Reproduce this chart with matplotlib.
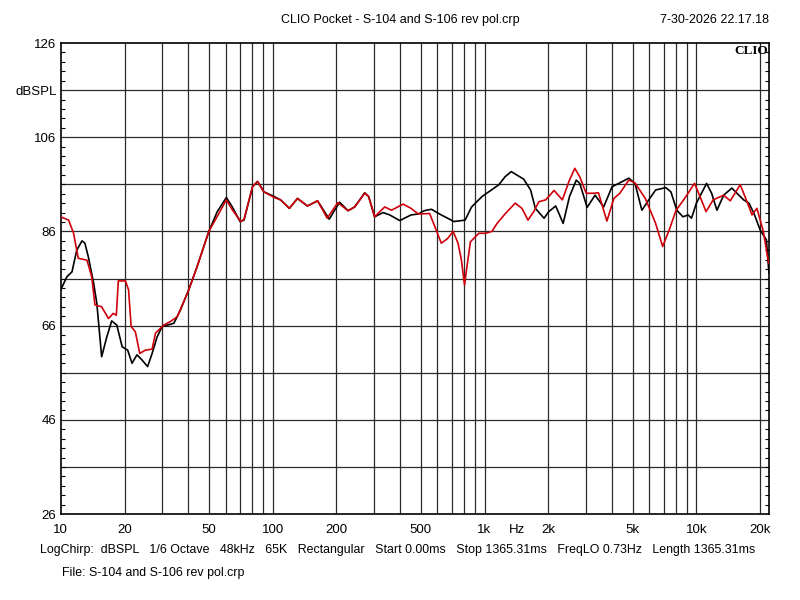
import numpy as np
import matplotlib
matplotlib.use('Agg')
import matplotlib.pyplot as plt
from matplotlib.ticker import FixedLocator, NullFormatter

plt.rcParams['font.family'] = ['Liberation Sans', 'DejaVu Sans']

# black curve (S-104)
freq_black = [10, 10.7, 11.3, 11.9, 12.6, 13.0, 13.5, 14.3, 14.8, 15.6, 16.5, 17.4, 18.4,
              19.5, 20.7, 21.7, 22.9, 24.2, 25.7, 27.0, 28.5, 30.1, 31.8, 34.2, 36.7, 40.2,
              44.0, 50.0, 54.8, 60.5, 64.5, 70.2, 73.3, 80.4, 84.9, 91.0, 101.8, 109, 120,
              131, 146, 163, 185, 207, 227, 244, 272, 284, 303, 332, 357, 398, 450, 487,
              519, 562, 625, 670, 718, 810, 869, 973, 1168, 1250, 1337, 1530, 1650, 1737,
              1910, 2010, 2168, 2350, 2518, 2711, 2815, 3050, 3325, 3650, 4000, 4300, 4800,
              5130, 5530, 5960, 6420, 7170, 7580, 8080, 8640, 9140, 9480, 10000, 11170,
              11800, 12500, 13450, 14700, 15540, 16700, 17700, 18700, 20000, 21400, 22000]
spl_black = [73.6, 76.4, 77.4, 82.0, 84.0, 83.5, 80.6, 75.0, 70.8, 59.4, 63.6, 67.0, 66.1,
             61.5, 60.8, 58.0, 59.8, 58.7, 57.3, 60.1, 63.6, 65.8, 66.1, 66.5, 69.3, 73.6,
             78.5, 86.0, 90.2, 93.2, 91.2, 88.1, 88.4, 95.5, 96.6, 94.4, 93.4, 92.7, 90.9,
             93.0, 91.4, 92.5, 88.6, 92.2, 90.4, 91.2, 94.2, 93.4, 89.1, 90.0, 89.5, 88.3,
             89.5, 89.7, 90.4, 90.7, 89.5, 88.8, 88.1, 88.4, 91.2, 93.4, 95.9, 97.6, 98.7,
             97.1, 94.8, 90.9, 88.8, 90.2, 91.4, 87.7, 93.4, 96.9, 96.2, 91.1, 93.7, 91.2,
             95.5, 96.2, 97.3, 96.2, 90.5, 92.7, 94.8, 95.3, 94.4, 90.5, 89.1, 89.5, 88.8,
             92.0, 96.2, 94.1, 90.5, 93.7, 95.2, 94.1, 92.7, 92.0, 89.8, 86.3, 84.2, 77.1]

# red curve (S-106 rev pol)
freq_red = [10, 10.9, 11.5, 12.1, 13.3, 14.0, 14.5, 15.6, 16.8, 17.7, 18.3, 18.7, 20.2,
            20.9, 21.5, 22.5, 23.6, 25.1, 27.0, 28.0, 30.6, 33.0, 35.5, 40.2, 44.0, 50.0,
            54.8, 60.5, 64.5, 70.8, 73.3, 80.4, 84.9, 91.0, 101.8, 109, 120, 131, 146, 163,
            181, 203, 227, 244, 272, 284, 303, 338, 364, 413, 450, 487, 551, 595, 625,
            670, 711, 750, 778, 805, 826, 858, 940, 1010, 1084, 1146, 1255, 1396, 1502,
            1604, 1707, 1805, 1945, 2130, 2330, 2518, 2668, 2815, 3020, 3270, 3450, 3780,
            4080, 4350, 4800, 5130, 5740, 6420, 6930, 7440, 8020, 8800, 9800, 10400, 11100,
            12000, 13450, 14450, 16100, 17200, 18300, 19300, 20700, 21800, 22000]
spl_red = [89.1, 88.4, 85.6, 80.3, 79.9, 76.4, 70.4, 70.0, 67.5, 68.6, 68.2, 75.5, 75.5,
           73.6, 65.8, 64.7, 60.1, 60.8, 61.0, 64.4, 66.1, 66.9, 67.9, 73.6, 78.5, 86.0,
           89.2, 92.7, 90.6, 88.1, 88.6, 95.5, 96.6, 94.4, 93.2, 92.7, 90.9, 93.0, 91.4,
           92.5, 88.8, 92.1, 90.4, 91.2, 94.1, 93.4, 89.1, 91.2, 90.5, 91.8, 90.9, 89.7,
           89.8, 86.0, 83.5, 84.5, 86.0, 83.5, 79.9, 74.6, 78.5, 83.8, 85.6, 85.6,
           86.0, 87.7, 89.8, 92.0, 90.9, 88.4, 90.2, 92.3, 92.7, 94.7, 92.7, 96.9, 99.4,
           97.6, 94.1, 94.1, 94.2, 88.2, 93.0, 94.1, 96.9, 96.3, 93.0, 87.7, 82.8, 86.3,
           90.5, 93.0, 96.2, 93.4, 90.2, 92.7, 93.7, 92.5, 95.9, 92.7, 89.5, 90.9, 86.0,
           79.9, 79.2]

x_ticks = [10, 20, 50, 100, 200, 500, 1000, 1420, 2000, 5000, 10000, 20000]
x_labels = ['10', '20', '50', '100', '200', '500', '1k', 'Hz', '2k', '5k', '10k', '20k']
y_ticks = [26, 46, 66, 86, 106, 116, 126]
y_labels = ['26', '46', '66', '86', '106', 'dBSPL', '126']

fig = plt.figure(figsize=(8, 6), dpi=100)
ax = fig.add_axes([0.0759, 0.1433, 0.8853, 0.785])

ax.set_xscale('log')
ax.set_xlim(10, 22000)
ax.set_ylim(26, 126)

# grid
grid_f = [m * 10 ** d for d in range(1, 5) for m in range(1, 10)]
grid_f = [g for g in grid_f if 10 < g <= 20000]
for g in grid_f:
    ax.axvline(g, color='#2a2a2a', lw=0.9, zorder=1)
for yv in range(36, 126, 10):
    ax.axhline(yv, color='#2a2a2a', lw=0.9, zorder=1)

ax.plot(freq_black, spl_black, color='black', lw=1.2, zorder=3, solid_joinstyle='round')
ax.plot(freq_red, spl_red, color='#d0000a', lw=1.2, zorder=4, solid_joinstyle='round')

ax.xaxis.set_major_locator(FixedLocator(x_ticks))
ax.xaxis.set_minor_locator(FixedLocator([]))
ax.set_xticklabels(x_labels)
ax.xaxis.set_minor_formatter(NullFormatter())
ax.tick_params(axis='x', length=0, pad=7, labelsize=9.5)

ax.set_yticks(y_ticks)
ax.set_yticklabels(y_labels)
ax.set_yticks(np.arange(26, 127, 2), minor=True)
ax.tick_params(axis='y', which='major', length=0, pad=3, labelsize=9.5)
ax.tick_params(axis='y', which='minor', direction='in', length=3, width=0.8,
               left=True, right=True)

for s in ax.spines.values():
    s.set_linewidth(1.2)
    s.set_color('black')

fig.text(0.5, 0.967, 'CLIO Pocket - S-104 and S-106 rev pol.crp',
         ha='center', va='center', fontsize=9)
fig.text(0.961, 0.967, '7-30-2026 22.17.18', ha='right', va='center', fontsize=9)
ax.text(0.998, 0.995, 'CLIO', transform=ax.transAxes, ha='right', va='top',
        fontsize=9.5, fontweight='bold', family='Liberation Serif')

fig.text(0.05, 0.083,
         'LogChirp:  dBSPL   1/6 Octave   48kHz   65K   Rectangular   Start 0.00ms   '
         'Stop 1365.31ms   FreqLO 0.73Hz   Length 1365.31ms',
         ha='left', va='center', fontsize=8.9)
fig.text(0.077, 0.045, 'File: S-104 and S-106 rev pol.crp', ha='left', va='center',
         fontsize=8.9)

fig.savefig('out.png', dpi=100)
